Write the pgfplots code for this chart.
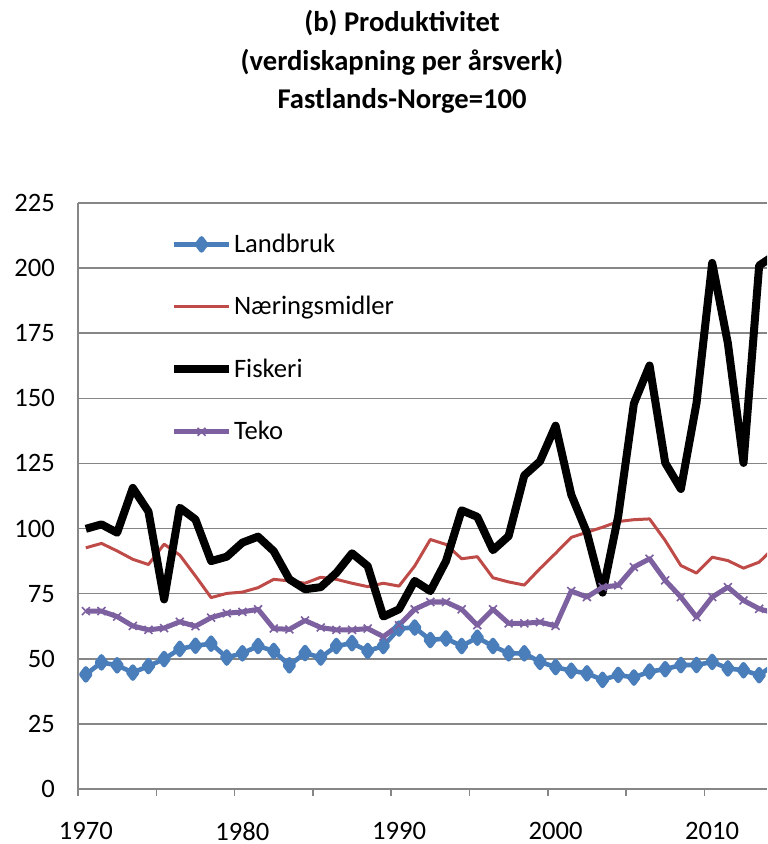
\documentclass[border=0pt]{standalone}
\usepackage{fontspec}
\setmainfont{Carlito}
\usepackage{pgfplots}
\usepackage{pgfplotstable}
\pgfplotsset{compat=1.18}
\definecolor{lbblue}{HTML}{4A7EBB}
\definecolor{nmred}{HTML}{BE4B48}
\definecolor{tkpurple}{HTML}{7D60A0}
\definecolor{gridgray}{HTML}{868686}

\pgfplotstableread{
year land naer fisk teko
1970 44.0 92.6 99.9 68.3
1971 48.6 94.3 101.6 68.3
1972 47.5 91.4 98.4 66.2
1973 44.7 88.2 115.6 62.6
1974 47.2 86.2 106.5 61.1
1975 49.9 94.0 72.8 61.8
1976 53.8 89.8 108.0 64.2
1977 55.0 81.8 103.5 62.5
1978 55.8 73.5 87.5 65.8
1979 50.5 75.1 89.2 67.5
1980 52.1 75.6 94.6 68.0
1981 54.9 77.3 96.9 69.0
1982 53.0 80.5 91.3 61.6
1983 47.5 79.9 80.5 61.3
1984 52.2 79.0 76.7 64.7
1985 50.5 81.3 77.5 62.0
1986 54.9 80.5 83.0 61.1
1987 56.0 79.0 90.5 61.1
1988 53.0 77.7 85.6 61.6
1989 54.9 79.0 66.2 58.5
1990 61.6 77.9 69.0 62.9
1991 62.0 85.6 79.9 69.0
1992 57.2 95.8 76.0 71.8
1993 57.8 93.9 87.5 71.8
1994 54.9 88.4 107.0 69.0
1995 58.1 89.2 104.5 62.9
1996 54.9 81.1 91.7 69.0
1997 52.1 79.5 97.1 63.6
1998 52.1 78.3 120.4 63.6
1999 48.8 84.6 125.8 64.1
2000 46.8 90.5 139.5 62.6
2001 45.4 96.6 113.0 76.0
2002 44.4 98.6 98.4 73.7
2003 41.9 100.5 75.4 77.5
2004 43.8 102.7 104.8 78.2
2005 42.8 103.4 148.0 85.2
2006 45.1 103.7 162.6 88.4
2007 46.0 95.4 125.2 80.1
2008 47.6 85.8 115.2 73.7
2009 47.6 82.9 148.2 66.0
2010 48.8 89.0 202.0 73.7
2011 46.3 87.7 171.2 77.5
2012 45.6 84.8 125.2 72.4
2013 43.7 87.1 201.0 69.2
2014 48.0 93.0 205.0 67.5
}\datatable

\begin{document}
\begin{tikzpicture}
\useasboundingbox (-39pt,-27.5pt) rectangle (344.5pt,394.5pt);
\begin{axis}[
  at={(0,0)}, anchor=south west,
  scale only axis, width=344.5pt, height=293pt,
  xmin=1969.5, xmax=2013.5, ymin=0, ymax=225,
  axis x line*=bottom, axis y line*=left,
  axis line style={gridgray, line width=0.75pt},
  ytick={0,25,...,225},
  ymajorgrids, major grid style={gridgray, line width=0.75pt},
  xtick={1970,1980,1990,2000,2010},
  minor xtick={1969.5,1974.5,1979.5,1984.5,1989.5,1994.5,1999.5,2004.5,2009.5},
  major tick length=0pt, minor tick length=3.5pt, tick align=outside,
  minor x tick style={gridgray, line width=0.75pt},
  x tick label style={/pgf/number format/1000 sep={}, yshift=-13pt},
  y tick label style={xshift=-8pt},
  tick label style={font=\fontsize{13.3}{15}\selectfont},
  /pgf/number format/assume math mode=true,
  legend style={at={(0.133,0.950)}, anchor=north west, draw=none, fill=none,
    font=\fontsize{13.3}{15}\selectfont, row sep=19.5pt, inner sep=0pt,
    nodes={inner sep=0.5pt}},
  legend cell align=left,
  legend image code/.code={\draw[mark repeat=2,mark phase=2,#1] plot coordinates {(0pt,0pt) (13.75pt,0pt) (27.5pt,0pt)};},
  every axis plot/.append style={line join=round},
]
\addplot[lbblue, line width=2.3pt, mark=diamond*, mark size=3pt, mark options={solid}] table[x=year,y=land] {\datatable};
\addlegendentry{Landbruk}
\addplot[nmred, line width=1.5pt, no marks] table[x=year,y=naer] {\datatable};
\addlegendentry{Næringsmidler}
\addplot[black, line width=4pt, no marks] table[x=year,y=fisk] {\datatable};
\addlegendentry{Fiskeri}
\addplot[tkpurple, line width=2.5pt, mark=x, mark size=2.8pt, mark options={solid, line width=0.8pt}] table[x=year,y=teko] {\datatable};
\addlegendentry{Teko}
\end{axis}
\node[align=center, font=\bfseries\fontsize{14.3}{19.25}\selectfont] at (162pt,363.5pt)
  {(b) Produktivitet\\(verdiskapning per årsverk)\\Fastlands-Norge=100};
\end{tikzpicture}
\end{document}
